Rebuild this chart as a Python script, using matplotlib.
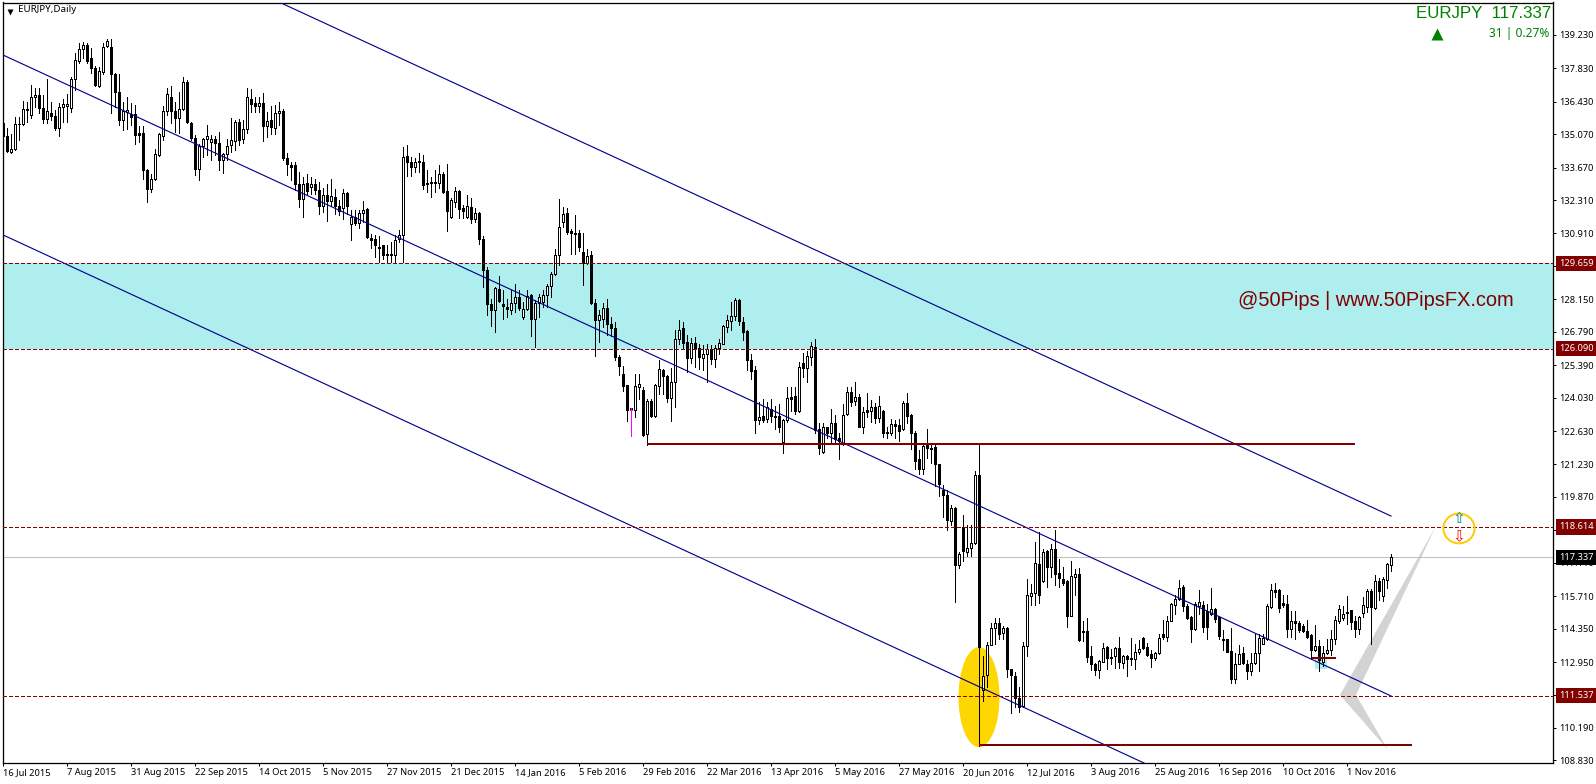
import matplotlib
matplotlib.use('Agg')
import matplotlib.pyplot as plt
from matplotlib.patches import Ellipse

opens = [135.52,134.99,134.33,134.43,135.48,135.48,136.12,135.87,136.64,136.71,
136.15,135.70,135.98,135.84,135.35,136.19,136.26,136.18,137.37,138.15,
138.63,138.81,138.25,137.83,137.09,137.69,138.77,138.71,137.59,136.85,
135.66,136.01,135.90,135.90,135.13,135.13,133.59,132.76,133.18,134.19,
134.99,136.05,136.61,136.05,135.73,136.11,137.27,135.55,134.92,133.60,
134.57,134.89,134.75,134.86,134.71,133.98,134.26,134.61,134.79,135.58,
134.85,135.27,136.54,136.36,136.26,136.36,135.41,135.66,135.35,135.97,
136.04,134.09,133.77,133.77,133.00,132.34,133.03,132.86,133.00,132.75,
132.06,132.51,132.26,132.44,132.05,131.99,132.62,131.32,131.60,131.36,
131.77,131.92,130.72,130.66,130.36,130.41,130.06,130.02,130.02,130.66,
130.84,134.16,133.92,133.71,133.92,133.89,133.04,133.08,133.05,133.01,
133.40,132.69,131.61,132.24,132.69,131.96,131.61,132.03,131.50,131.75,
130.70,129.40,127.97,127.72,128.60,127.97,127.83,127.69,128.00,128.25,
127.41,127.76,128.32,127.34,127.99,128.04,128.35,128.71,129.23,130.00,
131.40,131.75,131.01,130.95,130.91,130.14,129.69,130.00,128.01,127.27,
127.34,127.80,127.13,126.96,125.73,125.03,124.54,123.60,123.52,124.47,
124.36,122.51,123.91,123.28,124.51,125.21,124.92,124.01,124.68,126.50,
126.96,126.36,125.69,126.33,126.12,125.69,125.84,126.05,125.66,126.11,
126.29,126.99,127.24,127.45,128.11,127.20,126.81,125.62,125.17,123.10,
123.28,123.13,123.56,123.28,123.28,122.19,123.10,124.05,124.08,123.49,
125.50,125.26,125.75,126.17,122.70,121.76,122.78,122.57,122.95,122.32,
122.08,123.33,124.25,123.90,124.04,122.81,123.51,123.48,123.65,123.19,
123.48,122.53,122.53,122.91,122.88,122.70,123.79,123.30,122.57,121.44,
121.02,122.05,121.94,121.97,121.23,120.15,119.97,118.86,119.41,117.03,
118.61,117.56,117.73,117.94,120.77,111.78,112.41,113.67,114.38,114.59,
114.16,114.37,112.66,112.38,111.44,111.09,113.64,115.70,115.84,117.04,
116.33,117.59,116.93,117.70,116.69,116.44,116.34,114.90,116.51,116.62,
114.27,114.27,113.22,112.87,112.62,112.97,113.60,113.18,113.21,113.54,
112.90,113.22,113.11,113.08,113.36,113.95,113.57,113.29,113.11,113.33,
114.13,113.99,114.69,115.35,115.60,116.09,115.28,114.83,114.34,115.32,
115.33,115.09,114.98,115.19,114.84,113.90,113.90,113.40,112.25,112.88,
113.33,112.88,112.57,112.91,113.34,113.72,113.93,115.26,115.96,115.96,
115.44,115.37,114.35,114.67,114.60,114.45,114.25,114.07,113.44,113.61,
112.95,113.33,113.47,113.93,114.67,114.81,115.06,115.12,114.66,114.35,
115.01,115.26,115.92,115.23,116.34,115.71,116.38,117.01]

highs = [135.91,135.31,135.10,135.80,135.80,136.46,136.43,137.13,136.99,136.99,
136.71,137.37,136.43,136.08,136.36,136.54,136.74,137.48,138.46,138.88,
138.95,138.88,138.67,137.93,137.90,138.88,139.06,139.05,137.62,137.59,
136.43,136.64,136.36,136.29,135.41,135.41,133.63,133.42,134.43,135.13,
136.25,136.99,137.09,136.43,136.85,137.45,137.34,135.59,135.03,134.68,
134.93,135.44,135.03,134.99,135.17,134.29,134.85,135.77,135.66,135.69,
135.66,136.99,136.95,136.64,136.64,136.78,136.01,136.25,136.29,136.43,
136.11,134.29,133.91,133.91,133.49,133.28,133.42,133.28,133.21,133.07,
132.83,133.00,133.21,132.79,132.30,132.79,132.65,131.88,131.88,131.88,
132.26,131.99,130.90,130.83,130.80,130.41,130.41,130.55,130.83,131.04,
134.55,134.62,134.13,134.06,134.27,134.20,133.57,133.29,133.57,133.78,
133.50,133.82,132.38,132.87,132.73,132.10,132.52,132.38,131.96,131.79,
130.80,129.51,128.18,128.67,129.12,128.53,128.18,128.53,128.78,128.56,
128.04,128.53,128.39,128.11,128.39,128.56,128.78,129.30,130.24,132.34,
132.03,131.96,131.08,131.68,131.05,130.91,130.28,130.18,128.18,127.69,
128.00,128.18,127.41,127.20,125.80,125.34,124.58,123.60,125.03,125.03,
124.47,123.98,123.98,124.61,125.62,125.24,124.96,125.28,126.85,127.30,
127.20,126.64,126.54,126.57,126.29,126.22,126.29,126.22,126.22,126.50,
127.06,127.48,128.04,128.22,128.18,127.41,126.85,125.84,125.34,123.84,
123.98,123.84,123.98,123.70,123.77,123.14,124.47,124.47,124.47,125.52,
125.89,125.99,126.38,126.49,122.95,122.95,122.81,123.54,123.30,122.53,
123.76,124.46,124.49,124.67,124.18,123.65,124.21,123.93,123.79,124.10,
123.51,122.81,123.13,123.09,123.13,123.90,124.21,123.33,122.63,121.83,
122.14,122.70,122.08,122.08,121.24,120.36,120.18,119.52,119.45,117.56,
119.13,118.71,118.68,120.95,122.08,113.22,113.78,114.58,114.80,114.80,
114.48,114.41,112.66,112.52,111.89,113.78,116.44,116.23,117.98,118.40,
117.70,117.63,117.91,118.47,117.28,116.93,116.37,117.17,116.86,116.90,
114.69,114.80,113.64,112.90,113.04,113.74,113.64,113.50,113.60,114.02,
113.26,113.26,113.95,113.71,113.88,113.99,113.74,113.46,113.39,114.13,
114.72,114.90,115.42,115.74,116.37,116.16,115.39,114.90,115.46,115.95,
115.50,115.40,116.07,115.23,114.87,114.28,113.93,114.39,113.33,113.65,
113.58,113.02,113.33,114.14,114.14,114.11,115.40,116.24,116.27,116.00,
115.75,115.75,115.09,115.09,114.66,114.56,114.70,114.11,114.52,113.89,
113.62,113.93,114.28,114.87,115.33,115.29,115.71,115.12,114.87,114.87,
115.68,116.03,116.03,116.59,116.49,116.52,117.11,117.47]

lows = [134.75,134.33,134.30,134.40,134.82,135.45,135.59,135.77,136.22,135.94,
135.55,135.55,135.66,135.24,135.00,135.59,135.59,136.01,136.92,138.04,
138.25,138.04,137.62,137.09,137.03,137.59,138.71,135.94,136.22,135.45,
135.24,135.27,135.45,134.65,134.75,133.21,132.23,132.65,133.14,134.15,
134.82,135.87,135.52,135.17,135.13,136.08,135.55,134.82,133.35,133.14,
134.12,134.19,133.98,134.19,133.59,133.45,134.01,134.33,134.40,134.61,
134.71,135.13,136.01,136.01,136.01,134.79,134.96,135.10,135.10,135.45,
134.01,133.35,133.14,132.72,132.02,131.60,132.51,132.58,132.55,131.74,
131.81,131.43,132.05,131.74,131.67,131.50,131.74,130.65,131.25,131.15,
131.39,130.73,130.31,129.92,129.71,129.85,129.71,129.71,129.71,130.55,
129.72,133.32,133.32,133.50,133.50,132.76,132.66,132.45,132.66,132.80,
132.62,131.01,131.54,132.03,131.54,131.58,131.58,131.33,131.40,130.46,
128.67,127.48,127.02,126.78,128.04,127.34,127.41,127.55,127.62,127.69,
127.34,127.69,126.61,126.15,127.41,127.83,127.83,128.25,129.19,129.58,
131.19,130.88,130.07,130.07,130.18,128.77,129.65,127.97,125.77,126.36,
126.99,126.64,126.60,125.59,124.96,124.33,123.04,122.44,123.24,123.98,
122.44,122.06,123.24,123.24,124.19,124.19,123.84,123.04,123.63,126.29,
126.08,125.10,125.48,125.31,125.24,125.21,124.68,125.45,125.31,125.87,
126.26,126.78,126.85,127.27,127.06,126.43,125.20,124.82,122.54,122.93,
123.00,123.03,123.00,122.72,122.58,121.70,123.00,123.46,123.35,123.42,
124.91,124.70,125.38,122.53,121.69,121.72,122.32,122.18,122.08,121.48,
122.04,123.29,123.68,123.72,122.78,122.53,123.23,123.02,122.95,123.02,
122.39,122.35,122.46,122.32,122.22,122.67,122.95,121.87,121.02,120.82,
120.82,121.52,121.30,120.33,119.90,119.03,118.50,118.68,115.46,116.89,
117.18,117.38,117.38,117.88,109.44,111.33,111.89,113.67,113.71,113.92,
113.92,112.34,110.80,111.05,110.84,111.05,113.22,115.35,115.35,115.43,
116.30,116.09,116.51,116.16,116.09,116.16,114.41,114.86,115.78,113.85,
113.85,112.97,112.62,112.42,112.27,112.94,112.66,112.87,112.69,112.69,
112.70,112.35,112.84,112.66,113.29,113.50,113.22,112.76,113.05,113.29,
113.92,113.82,114.66,114.97,115.53,115.08,114.76,113.78,114.30,114.97,
114.21,113.93,114.91,114.63,113.93,113.47,113.37,112.07,112.07,112.85,
112.88,112.25,112.39,112.88,112.57,113.69,113.89,115.23,115.68,115.05,
115.26,114.00,114.00,113.93,114.21,114.21,113.97,113.09,113.40,112.57,
112.78,113.30,113.23,113.72,114.59,114.70,114.56,114.35,114.00,114.11,
114.84,115.05,113.69,115.19,115.54,115.51,116.06,116.76]

closes = [134.99,134.36,134.43,135.48,135.50,136.12,136.07,136.64,136.70,136.15,
135.70,136.05,135.84,135.31,136.19,136.32,136.32,137.37,138.18,138.63,
138.81,138.15,137.83,137.13,137.72,138.74,138.99,137.59,136.85,135.66,
136.05,136.08,135.80,135.03,135.03,133.56,132.76,133.21,134.23,135.10,
136.05,136.75,136.05,135.73,136.11,137.27,135.59,134.92,133.63,134.57,
134.89,135.00,134.85,134.71,133.98,134.26,134.57,134.81,135.58,134.82,
135.27,136.61,136.33,136.26,136.36,135.41,135.62,135.38,135.98,136.04,
134.08,133.84,133.70,132.97,132.34,133.00,132.69,133.00,132.72,132.05,
132.54,132.26,132.47,132.05,131.85,132.62,132.05,131.60,131.35,131.77,
131.88,130.76,130.62,130.41,130.32,130.02,130.02,130.06,130.62,130.86,
134.13,133.92,133.71,133.92,133.95,132.94,132.97,133.04,133.03,133.39,
132.66,131.86,132.31,132.69,131.93,131.86,132.06,131.50,131.75,130.70,
129.40,127.97,127.69,128.63,128.08,127.87,127.73,128.00,128.25,127.79,
127.76,128.29,127.34,127.99,128.25,128.35,128.71,129.23,130.00,131.19,
131.72,130.98,130.95,130.87,130.35,129.69,129.97,128.00,127.27,127.48,
127.80,127.13,126.96,125.73,125.35,124.50,123.52,123.56,124.50,124.61,
122.48,123.91,123.28,124.54,125.24,124.92,124.01,124.68,126.50,126.88,
126.32,125.69,126.33,126.08,125.73,125.84,126.05,125.63,126.11,126.33,
127.03,127.27,127.45,128.11,127.24,126.78,125.62,125.14,123.10,123.24,
123.10,123.63,123.25,123.24,122.82,123.10,124.02,123.96,123.49,125.31,
125.29,125.78,126.20,122.67,121.94,122.78,122.56,122.95,122.29,122.22,
123.30,124.25,123.86,124.04,122.78,123.44,123.44,123.62,123.19,123.68,
122.57,122.58,122.91,122.85,122.64,123.79,123.27,122.53,121.38,121.03,
122.00,121.94,121.89,121.23,120.40,119.94,118.89,119.41,117.00,117.49,
117.60,117.74,117.95,120.77,113.57,112.38,113.67,114.38,114.59,114.13,
114.38,112.66,112.42,111.43,111.05,113.64,115.77,115.84,117.11,115.78,
117.56,116.93,117.70,116.62,116.48,116.27,114.90,116.54,116.62,113.89,
114.20,113.18,112.87,112.62,113.01,113.54,113.12,113.14,113.54,112.94,
113.22,113.08,113.07,113.39,113.50,113.54,113.25,113.11,113.33,113.96,
113.99,114.69,115.39,115.60,116.05,115.28,114.80,114.34,115.39,115.46,
114.42,114.42,115.19,114.77,114.03,113.86,113.37,112.25,112.88,113.27,
112.91,112.57,112.91,113.34,113.97,113.96,115.29,115.96,115.89,115.23,
115.33,114.35,114.66,114.59,114.31,114.25,114.00,113.47,113.61,113.05,
113.33,113.47,113.93,114.70,115.19,114.98,115.01,114.63,114.35,114.84,
115.33,115.92,115.26,116.34,115.93,116.41,117.04,117.337]

date_labels = ['16 Jul 2015','7 Aug 2015','31 Aug 2015','22 Sep 2015','14 Oct 2015','5 Nov 2015',
               '27 Nov 2015','21 Dec 2015','14 Jan 2016','5 Feb 2016','29 Feb 2016','22 Mar 2016',
               '13 Apr 2016','5 May 2016','27 May 2016','20 Jun 2016','12 Jul 2016','3 Aug 2016',
               '25 Aug 2016','16 Sep 2016','10 Oct 2016','1 Nov 2016']
price_ticks = [139.23,137.83,136.43,135.07,133.67,132.31,130.91,129.55,128.15,126.79,125.39,124.03,
               122.63,121.23,119.87,118.47,117.11,115.71,114.35,112.95,111.59,110.19,108.83]

levels = [129.659,126.09,118.614,111.537]
last_price = 117.337
zone = (126.09,129.659)

# channel lines, (bar,price) at each end
upper_x, upper_y = [69,347], [140.61,119.07]
middle_x, middle_y = [0,347], [138.39,111.53]
lower_x, lower_y = [0,285.25], [130.85,108.72]

# thick support/resistance lines
hlines_y = [122.09,109.47,113.13]
hlines_x0 = [161,244,327.25]
hlines_x1 = [338,352.25,333.25]

# the grey zigzag, two triangles
zig_up_x, zig_up_y = [358.25,334.25,338.25], [118.65,111.57,111.57]
zig_dn_x, zig_dn_y = [334.25,338.25,346.25], [111.57,111.57,109.27]

font = 'Noto Sans'
arial = 'Liberation Sans'
W,H = 1596,784
L,R,T,B = 2.5,1553,2.5,763

fig = plt.figure(figsize=(W/100,H/100),dpi=100,facecolor='white')
ax = fig.add_axes([L/W,(H-B)/H,(R-L)/W,(B-T)/H])
ax.set_xlim(-0.125,387.5)
ax.set_ylim(108.72,140.59)

n = len(closes)
xs = list(range(n))
px = 0.72

# background objects
ax.axhspan(zone[0],zone[1],color='#AFEEEE',lw=0,zorder=1)
ax.add_patch(Ellipse((244,111.48),10.25,4.19,fc='#FFD700',ec='none',zorder=1.2))
ax.fill([328,331,331,328],[113.15,113.15,112.65,112.65],color='#AFEEEE',lw=0,zorder=1.2)
ax.fill(zig_up_x,zig_up_y,color='#D3D3D3',lw=0,zorder=1.3)
ax.fill(zig_dn_x,zig_dn_y,color='#D3D3D3',lw=0,zorder=1.3)
ax.axhline(last_price,color='#C0C0C0',lw=px,zorder=1.5)

# candles
ax.vlines(xs,lows,highs,color='black',lw=px,zorder=2,antialiased=False)
bottoms = [min(o,c) for o,c in zip(opens,closes)]
heights = [abs(o-c) for o,c in zip(opens,closes)]
fills = ['white' if c>=o else 'black' for o,c in zip(opens,closes)]
ax.bar(xs,heights,bottom=bottoms,width=0.5,color=fills,edgecolor='black',linewidth=px,zorder=3,antialiased=False)

# objects in front
ax.plot(upper_x,upper_y,color='#00008B',lw=px+0.1,zorder=4)
ax.plot(middle_x,middle_y,color='#00008B',lw=px+0.1,zorder=4)
ax.plot(lower_x,lower_y,color='#00008B',lw=px+0.1,zorder=4)
for v in levels:
    ax.axhline(v,color='#8B0000',lw=px,dashes=(4,2.5),zorder=4,antialiased=False)
for y,a,b in zip(hlines_y,hlines_x0,hlines_x1):
    ax.plot([a,b],[y,y],color='#800000',lw=2*px,solid_capstyle='butt',zorder=4,antialiased=False)

# magenta arrow on bar 157
ax.vlines(157,122.44,123.60,color='#FF00FF',lw=px,zorder=5,antialiased=False)
ax.hlines(123.50,156.75,157.25,color='#FF00FF',lw=px,zorder=5,antialiased=False)

# arrows in the gold ring
ax.add_patch(Ellipse((364,118.55),7.8,1.25,fc='none',ec='#FFCC00',lw=2*px,zorder=5))
ax.text(364,118.95,'\u21e7',color='#008080',fontsize=11,ha='center',va='center',family='DejaVu Sans',zorder=6)
ax.text(364,118.2,'\u21e9',color='#FF0000',fontsize=11,ha='center',va='center',family='DejaVu Sans',zorder=6)

# axes
for s in ax.spines.values():
    s.set_linewidth(px+0.2)
ax.set_xticks(xs[::16][:len(date_labels)])
ax.set_xticklabels(date_labels,ha='left',fontsize=6.7,family=font)
ax.xaxis.set_tick_params(length=3*px,width=px,pad=1.5,direction='out')
ax.yaxis.tick_right()
ax.set_yticks(price_ticks)
ax.set_yticklabels(['%.3f'%v for v in price_ticks],fontsize=6.7,family=font)
ax.yaxis.set_tick_params(length=3*px,width=px,pad=2.5,direction='out')

# price tags on the axis
tag_tf = ax.get_yaxis_transform()
for v in levels:
    ax.text(1.0037,v,'%.3f'%v,transform=tag_tf,color='white',fontsize=6.7,family=font,
            va='center',ha='left',clip_on=False,zorder=10,
            bbox=dict(fc='#800000',ec='none',pad=2.3))
ax.text(1.0037,last_price,'%.3f'%last_price,transform=tag_tf,color='white',fontsize=6.7,family=font,
        va='center',ha='left',clip_on=False,zorder=10,
        bbox=dict(fc='black',ec='none',pad=2.3))

# texts on top
fig.text(18/W,1-10/H,'EURJPY,Daily',fontsize=7,family=font,color='black',va='center',ha='left')
ax.plot([1.75],[140.18],marker='v',ms=5,color='black',mec='none',zorder=6,clip_on=False)
fig.text(1551/W,1-13/H,'EURJPY  117.337',fontsize=12.2,family=arial,color='#008000',va='center',ha='right')
fig.text(1549/W,1-33/H,'31 | 0.27%',fontsize=8.6,family=font,color='#008000',va='center',ha='right')
ax.plot([358.5],[139.27],marker='^',ms=8,color='#008000',mec='none',zorder=6)
fig.text(1514/W,1-301/H,'@50Pips | www.50PipsFX.com',fontsize=14.4,family=arial,color='#800000',va='center',ha='right')

fig.savefig('out.png',dpi=100)
